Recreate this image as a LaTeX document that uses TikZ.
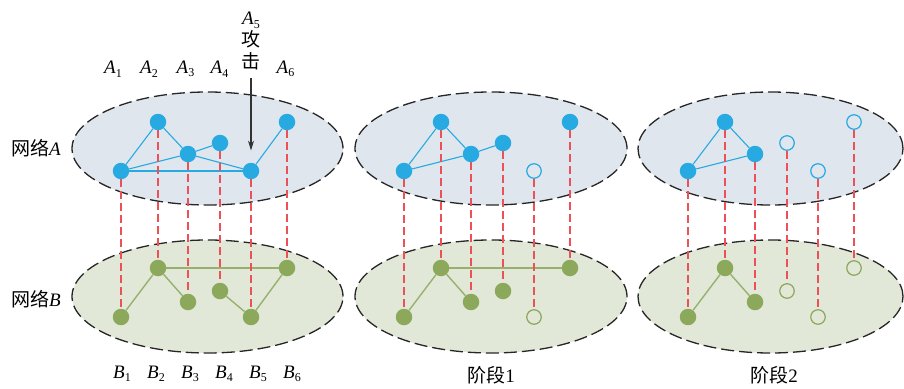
\documentclass[tikz,border=0pt]{standalone}
\usepackage{fontspec}
\setmainfont{Liberation Serif}
\newfontfamily\cjk{Noto Sans CJK SC}
\usetikzlibrary{shapes.geometric,arrows.meta}
\definecolor{nblue}{HTML}{27AAE1}
\definecolor{ngreen}{HTML}{8BA85B}
\definecolor{egreen}{HTML}{97B06E}
\definecolor{fillA}{HTML}{DFE6EE}
\definecolor{fillB}{HTML}{E1E8D7}
\definecolor{rline}{HTML}{EC5157}
\definecolor{darkline}{HTML}{333333}
\pgfdeclarelayer{ell}
\pgfdeclarelayer{edges}
\pgfsetlayers{ell,edges,main}
\newcommand\lab[2]{\textit{#1}\raisebox{-0.4ex}{\fontsize{12}{12}\selectfont #2}}
\tikzset{
  plane/.style={ellipse, draw=black!85, dash pattern=on 13pt off 5pt, line width=1.3pt,
    minimum height=113pt, inner sep=0pt},
  planeA/.style={plane, fill=fillA},
  planeB/.style={plane, fill=fillB},
  fa/.style={circle, fill=nblue, minimum size=16.5pt, inner sep=0pt},
  ha/.style={circle, draw=nblue, line width=1.2pt, minimum size=14.5pt, inner sep=0pt},
  fb/.style={circle, fill=ngreen, minimum size=16.5pt, inner sep=0pt},
  hb/.style={circle, draw=ngreen, line width=1.2pt, minimum size=14.5pt, inner sep=0pt},
  eA/.style={draw=nblue, line width=1.1pt},
  eB/.style={draw=egreen, line width=1.4pt},
  link/.style={draw=rline, line width=1.5pt, dash pattern=on 8pt off 4pt},
  txt/.style={font=\fontsize{19}{22}\selectfont, inner sep=0pt},
  arr/.style={draw=darkline, line width=1.3pt, -{Stealth[length=10pt,width=6pt]}}
}
\begin{document}
\begin{tikzpicture}[x=1pt,y=-1pt]
\useasboundingbox (0,0) rectangle (904,388);
% planes
\begin{pgfonlayer}{ell}
\node[planeA, minimum width=271pt] (pA0) at (207.5,148.5) {};
\node[planeB, minimum width=271pt] (pB0) at (207.5,296.5) {};
\node[planeA, minimum width=272pt] (pA1) at (491,148.5) {};
\node[planeB, minimum width=272pt] (pB1) at (491,296.5) {};
\node[planeA, minimum width=265pt] (pA2) at (770.5,148.5) {};
\node[planeB, minimum width=265pt] (pB2) at (770.5,296.5) {};
\end{pgfonlayer}
% panel 0
\foreach \i/\x/\ya/\yb/\sa/\sb in {1/121/171/317/fa/fb,2/158/122/268/fa/fb,3/188/154/302/fa/fb,4/220/143/291/fa/fb,5/251/171/317/fa/fb,6/287/122/268/fa/fb}{
  \node[\sa] (a\i-0) at (\x,\ya) {};
  \node[\sb] (b\i-0) at (\x,\yb) {};
}
% panel 1
\foreach \i/\x/\ya/\yb/\sa/\sb in {1/121/171/317/fa/fb,2/158/122/268/fa/fb,3/188/154/302/fa/fb,4/220/143/291/fa/fb,5/251/171/317/ha/hb,6/287/122/268/fa/fb}{
  \node[\sa] (a\i-1) at (\x+283,\ya) {};
  \node[\sb] (b\i-1) at (\x+283,\yb) {};
}
% panel 2
\foreach \i/\x/\ya/\yb/\sa/\sb in {1/121/171/317/fa/fb,2/158/122/268/fa/fb,3/188/154/302/fa/fb,4/220/143/291/ha/hb,5/251/171/317/ha/hb,6/287/122/268/ha/hb}{
  \node[\sa] (a\i-2) at (\x+567,\ya) {};
  \node[\sb] (b\i-2) at (\x+567,\yb) {};
}
\begin{pgfonlayer}{edges}
% network A edges
\foreach \u/\v in {1/2,2/3,1/3,3/4,3/5,1/5,5/6} \draw[eA] (a\u-0) -- (a\v-0);
\foreach \u/\v in {1/2,2/3,1/3,3/4} \draw[eA] (a\u-1) -- (a\v-1);
\foreach \u/\v in {1/2,2/3,1/3} \draw[eA] (a\u-2) -- (a\v-2);
% network B edges
\foreach \u/\v in {1/2,2/3,2/6,4/5,5/6} \draw[eB] (b\u-0) -- (b\v-0);
\foreach \u/\v in {1/2,2/3,2/6} \draw[eB] (b\u-1) -- (b\v-1);
\foreach \u/\v in {1/2,2/3} \draw[eB] (b\u-2) -- (b\v-2);
% interlinks
\foreach \p in {0,1,2}{
  \foreach \i in {1,...,6} \draw[link] (a\i-\p) -- (b\i-\p);
}
\end{pgfonlayer}
% labels
\foreach \i/\x in {1/113,2/149,3/185.5,4/219.5,6/285.5}
  \node[txt] (la\i) at (\x,69) {\lab{A}{\i}};
\foreach \i/\x in {1/122,2/156,3/190,4/224,6/292,5/258}
  \node[txt] (lb\i) at (\x,374) {\lab{B}{\i}};
\node[txt, align=center] (la5) at (251,41) {\lab{A}{5}\\{\cjk 攻}\\{\cjk 击}};
\coordinate (arrs) at (251,78);
\draw[arr, shorten >=12pt] (arrs) -- (a5-0);
\node[txt] (netA) at (36,148) {{\cjk 网络}\textit{A}};
\node[txt] (netB) at (36,299) {{\cjk 网络}\textit{B}};
\node[txt] (st1) at (491,375) {{\cjk 阶段}1};
\node[txt] (st2) at (774,375) {{\cjk 阶段}2};
\end{tikzpicture}
\end{document}
